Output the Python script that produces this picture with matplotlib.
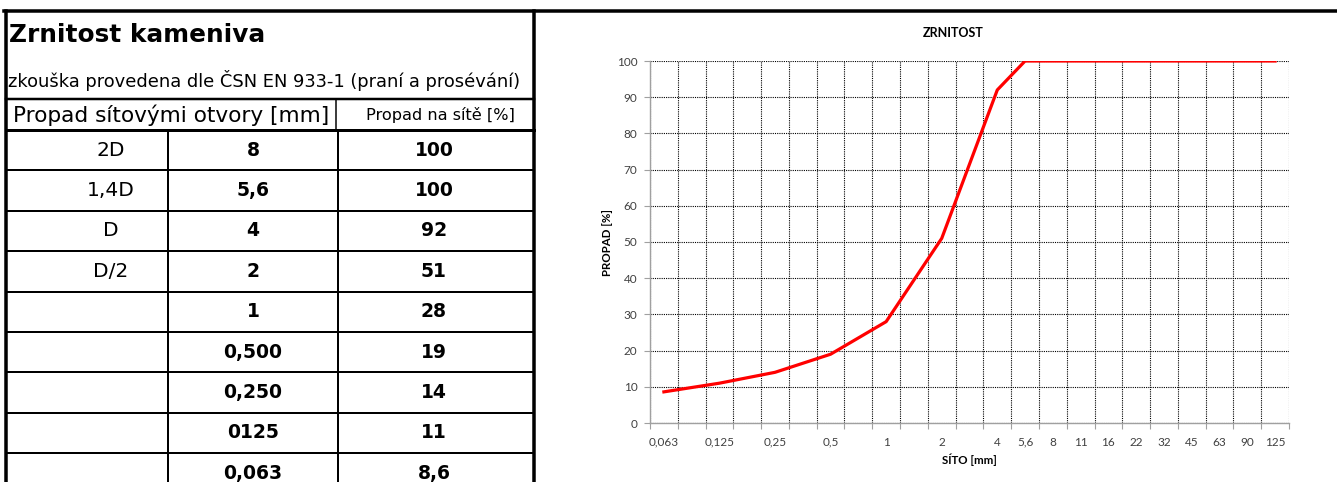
import numpy as np
import matplotlib
matplotlib.use("Agg")
import matplotlib.pyplot as plt
from matplotlib.lines import Line2D

# table data
title = "Zrnitost kameniva"
subtitle = "zkouška provedena dle ČSN EN 933-1 (praní a prosévání)"
head_left = "Propad sítovými otvory [mm]"
head_right = "Propad na sítě [%]"
oznaceni = ["2D", "1,4D", "D", "D/2", "", "", "", "", ""]
sito_tab = ["8", "5,6", "4", "2", "1", "0,500", "0,250", "0125", "0,063"]
propad_tab = ["100", "100", "92", "51", "28", "19", "14", "11", "8,6"]

# chart data (excel category axis, blanks between the small sieves)
kategorie = ["0,063", "", "0,125", "", "0,25", "", "0,5", "", "1", "", "2", "",
             "4", "5,6", "8", "11", "16", "22", "32", "45", "63", "90", "125"]
propad = [8.6, np.nan, 11, np.nan, 14, np.nan, 19, np.nan, 28, np.nan, 51, np.nan,
          92, 100, 100, 100, 100, 100, 100, 100, 100, 100, 100]

W, H = 1337, 482
fig = plt.figure(figsize=(W / 100, H / 100), dpi=100)

# overlay in pixel coords for the table part
ax0 = fig.add_axes([0, 0, 1, 1])
ax0.set_xlim(0, W)
ax0.set_ylim(H, 0)
ax0.axis("off")

PX = 0.72  # 1 px in points
tfont = "DejaVu Sans"

def hline(y, x0, x1, w):
    ax0.add_line(Line2D([x0, x1], [y, y], color="black", lw=w * PX, solid_capstyle="projecting"))

def vline(x, y0, y1, w):
    ax0.add_line(Line2D([x, x], [y0, y1], color="black", lw=w * PX, solid_capstyle="projecting"))

left, right = 5.5, 534
col1, col2 = 168, 338
top_y, sub_y, head_y = 11, 99, 130
row_h = 40.4

hline(top_y, 4, W, 3.5)
vline(left, top_y, H, 3.5)
vline(right, top_y, H, 3.5)
hline(sub_y, left, right, 2.5)
hline(head_y, left, right, 3)
vline(336, sub_y, head_y, 1.5)
for k in range(1, len(sito_tab)):
    hline(head_y + k * row_h, left, right, 2)
vline(col1, head_y, H, 2)
vline(col2, head_y, H, 2)

ax0.text(9, 42, title, fontsize=17.8, fontweight="bold", family=tfont, va="baseline", ha="left")
ax0.text(8, 87, subtitle, fontsize=12.85, family=tfont, va="baseline", ha="left")
ax0.text(171, 115, head_left, fontsize=15.6, family=tfont, va="center", ha="center")
ax0.text(440, 115, head_right, fontsize=11.6, family=tfont, va="center", ha="center")
for i in range(len(sito_tab)):
    yc = head_y + (i + 0.5) * row_h
    ax0.text(111, yc, oznaceni[i], fontsize=14.5, family=tfont, va="center", ha="center")
    ax0.text(253, yc, sito_tab[i], fontsize=13.5, fontweight="bold", family=tfont, va="center", ha="center")
    ax0.text(434, yc, propad_tab[i], fontsize=13.5, fontweight="bold", family=tfont, va="center", ha="center")

# chart
cfont = "Lato"
x0, x1, yt, yb = 650, 1289, 61, 423
ax = fig.add_axes([x0 / W, (H - yb) / H, (x1 - x0) / W, (yb - yt) / H])
ax.patch.set_alpha(0)

n = len(kategorie)
xs = np.arange(n) + 0.5
vals = np.array(propad, dtype=float)
ok = ~np.isnan(vals)
ax.plot(xs[ok], vals[ok], color="#ff0000", lw=2.3, solid_joinstyle="round", zorder=3)

ax.set_xlim(0, n)
ax.set_ylim(0, 100)
ax.set_xticks(np.arange(n + 1))
ax.set_xticklabels([])
ax.set_xticks(xs, minor=True)
ax.set_xticklabels(kategorie, minor=True, fontsize=8.5, family=cfont, color="#404040")
ax.tick_params(axis="x", which="minor", length=0, pad=10)
ax.tick_params(axis="x", which="major", length=4, color="#a0a0a0", width=0.8)
ax.set_yticks(np.arange(0, 101, 10))
ax.set_yticklabels([str(v) for v in range(0, 101, 10)], fontsize=8.5, family=cfont, color="#404040")
ax.tick_params(axis="y", length=4, color="#a0a0a0", width=0.8, pad=5)

ax.grid(True, which="major", color="black", linestyle=(0, (1, 1)), linewidth=0.8)
ax.set_axisbelow(True)
for s in ["top", "right"]:
    ax.spines[s].set_visible(False)
for s in ["left", "bottom"]:
    ax.spines[s].set_color("#a0a0a0")
    ax.spines[s].set_linewidth(1.0)

fig.text(953 / W, 1 - 33 / H, "ZRNITOST", fontsize=9, fontweight="bold", family=cfont,
         ha="center", va="center")
ax.set_ylabel("PROPAD [%]", fontsize=8.3, fontweight="bold", family=cfont, labelpad=3)
ax.set_xlabel("SÍTO [mm]", fontsize=8.3, fontweight="bold", family=cfont, labelpad=4)

fig.savefig("out.png", dpi=100)
